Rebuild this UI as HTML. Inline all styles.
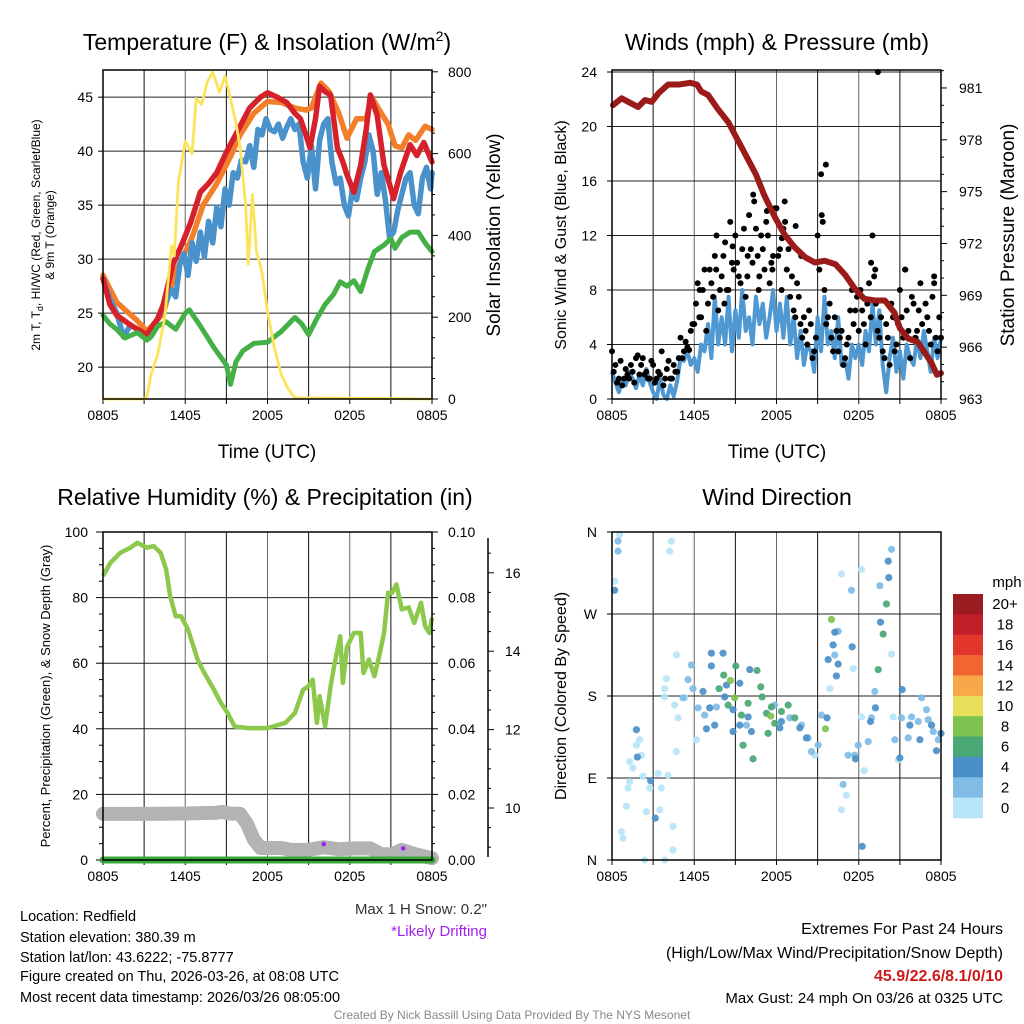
<!DOCTYPE html>
<html><head><meta charset="utf-8"><title>Redfield Mesonet</title>
<style>
html,body{margin:0;padding:0;background:#fff;}
svg{display:block;font-family:"Liberation Sans",Arial,sans-serif;}
</style></head>
<body>
<svg id="chart" width="1024" height="1024" viewBox="0 0 1024 1024" xmlns="http://www.w3.org/2000/svg">
<rect x="0" y="0" width="1024" height="1024" fill="#fff"/>
</svg>
<script>
// ---------- DATA ----------
const xTickLabels = ["0805","1405","2005","0205","0805"];
// Panel 1: temperature
const p1LeftTicks = [20,25,30,35,40,45];
const p1RightTicks = [0,200,400,600,800];
const orangeHours = [0,1,2.5,3.2,4.4,5.2,6.5,7.3,8.3,9.3,10,11,12,13,14,14.8,15.2,15.9,16.5,17.2,17.8,18.5,19.2,19.6,20.3,20.8,21.3,21.8,22.3,22.8,23.5,24];
const orangeTemp = [28.5,26,24.3,23.3,25,28.5,32,35,37,39.5,41.5,43.5,44.6,44.5,44,43.8,44,46.3,45.5,43.5,41.2,43,43,45,43.5,42.5,40.5,40.3,41.5,41,42.3,42];
const blueHours = [0,0.5,1,1.5,2,2.5,3,3.5,4,4.5,5,5.3,5.6,5.9,6.2,6.5,6.8,7.1,7.4,7.7,8,8.3,8.6,8.9,9.2,9.5,9.8,10.1,10.4,10.7,11,11.3,11.6,11.9,12.2,12.5,12.8,13.1,13.4,13.7,14,14.3,14.6,14.9,15.2,15.5,15.8,16.1,16.4,16.7,17,17.3,17.6,17.9,18.2,18.5,18.8,19.1,19.4,19.7,20,20.3,20.6,20.9,21.2,21.5,21.8,22.1,22.4,22.7,23,23.3,23.6,23.9,24];
const blueTemp = [28.2,26.3,25,22.8,23.9,23.5,23,23.2,24.5,25.8,27.2,26.5,29.5,30.5,28.5,31.5,29.8,32.5,30.2,33.5,31.5,34.8,33,36.5,35,38,37.5,39.2,39,40.5,38.5,42,41.5,43,42,41.8,42.5,41.2,42.2,43,42,42.5,39,37.5,40.5,36.5,41,42.5,43,39,37,37.5,35,34,36.5,35.5,37.5,39,41.5,40,36,38,35.5,32,32.5,34.5,36,37.5,38,35,34.2,37.5,38.5,36.5,38];
const redHours = [0,0.5,1,2,3.2,4,4.4,5.1,5.8,6.4,7.1,7.7,8.3,9,9.8,10.7,11.5,12,12.7,13.4,14,14.4,14.8,15.1,15.5,15.8,16.2,16.6,17.1,17.5,17.8,18.3,18.8,19.2,19.5,20,20.5,21,21.2,21.7,22.4,22.9,23.4,24];
const redTemp = [28.2,25.8,24.8,23.9,23,24.5,25.8,29.5,31.5,33.4,36.2,37,38,39.9,41.8,44,45,45.4,45,44.5,43.5,43,41.5,40.3,43,46,45.5,45.2,40.3,39,37.8,36.2,38.7,42,45.2,43.3,38.7,36.5,35.6,38,40.6,39.6,40.8,39];
const greenHours = [0,0.5,1,1.6,2.5,3.2,3.5,4,4.6,5.3,6,6.3,7,7.5,8.1,9,9.3,9.7,10.2,11,12,13,14,14.5,15,15.6,16.2,16.8,17.3,17.8,18.3,18.8,19.3,19.8,20.5,21,21.3,21.8,22.4,23,23.5,24];
const greenTemp = [24.8,24,23.5,22.7,23.2,22.5,22.8,23.8,24.2,23.5,25,25.3,24,23,21.8,20.2,18.4,20.5,21.5,22.2,22.3,23.3,24.6,24,23,24.5,25.8,26.7,27.9,27.5,28,27,29,30.7,31.3,31.9,31,32,32.5,32.5,31.5,30.7];
const solarHours = [0,3,3.2,3.5,4,4.5,5,5.2,5.5,6,6.5,6.8,7.2,7.6,8,8.5,8.9,9.3,9.7,10,10.4,10.6,10.9,11.2,11.6,12,12.5,13,13.5,14,24];
const solarWm2 = [0,0,5,60,110,200,375,350,530,630,600,735,720,775,800,750,790,735,675,615,475,330,500,360,310,213,125,60,25,3,0];
// Panel 2: winds & pressure
const p2LeftTicks = [0,4,8,12,16,20,24];
const p2RightTicks = [963,966,969,972,975,978,981];
const windSpeed = [2,1.2,0.5,1.5, 1,2,1.5,0.8, 1.8,1,2.2,1.2, 0.5,0,1.5,0.3, 0,1,0.2,1.3, 3,2.8,3.5,2.5, 3,2,4,3.5, 5.5,3,7.5,4, 6,4,7.5,3.5, 6.5,4.5,8,5, 6,4,7.5,5.5, 7,4.5,6,8, 5,7,4.5,7.5, 4,6,3,5, 2.5,4,3.5,2, 6,3.5,7.5,4, 5,3,6,2.5, 3,1.5,4,3, 4,2.5,5,3.5, 7,4,6.5,2.5, 0.5,3,4.5,2, 3.5,1.5,4,3, 2.5,4.5,3,5, 3.5,2,4.5,3, 4.5];
const gustSpeed = [3.5,2.5,1.5,1, 2.2,1.5,2,3, 1.8,3,2,1.5, 2.5,1.5,1.8,1, 2.2,1.5,2.5,2, 4.5,3.5,3.8,5, 5.5,8.5,6,9.5, 7,8.5,10.5,6.5, 9,11.5,8,10, 12,9,11,7.5, 13.5,10,12.5,9, 11,13,8.5,10.5, 14,11,12.5,9.5, 7.5,6.5,8.5,5.5, 6,4,5.5,3.5, 12,16.5,8,6, 4.5,6,3.5,5, 3,4.5,8,6.5, 5,6.5,4,8.5, 12,7,4.5,3.5, 5.5,2.5,6,4, 8,4.5,6.5,3, 7,5,8.5,3.5, 6,4,8.5,3.5, 4.5];
const gustSpeedOffset = [2,1.2,2.8,1.5, 1.8,2.5,1.2,3.2, 2.5,1.8,1.5,2.8, 1.2,2,3.5,1.5, 2.8,1.5,2,3, 3,4.2,3.6,5.5, 7,6,8,5, 9.5,7.5,12,8, 10.5,8,13,9.5, 10,8.5,12.5,9, 11,14.5,10.5,12, 9.5,12,10,14, 10.5,8,13,11, 9,6,7.5,4.5, 5,6.5,3,4.5, 9.5,13,5.5,7, 3.5,5,4.5,2.5, 4,6.5,5.5,7.5, 8,5.5,7,6, 9,5,6,3, 4.5,7,3.5,5.5, 6,9.5,5,7.5, 4.5,6.5,5.5,7, 5,7.5,4.5,6];
const extraGustHours = [7.6,8.8,10.3,11.3,12.6,13.4,15.6,15.3,19.4,18.9,19.2,21.4,23.5,6.4,9.9,11.7,12.4,8.2,10.7,13.8];
const extraGustSpeed = [9.5,11.2,15,13.8,14.5,12.7,17.2,13.5,24,10,9.5,9.5,9,8,10.5,9.5,11.8,7,8,10.5];
const pressHours = [0.07,0.7,1.9,2.4,2.9,3.4,4.1,4.9,5.7,6.2,6.5,7.0,7.7,8.5,9.1,9.9,10.5,11.1,11.9,12.6,13.3,14.1,14.8,15.5,16.3,17.0,17.7,18.4,19.2,19.9,20.6,21.0,21.6,22.3,22.8,23.3,23.7,24];
const pressMb = [980.0,980.4,979.9,980.3,980.2,980.7,981.2,981.2,981.3,981.2,980.8,980.6,979.8,979.0,978.1,976.9,976.0,974.8,973.5,972.5,971.8,971.2,970.9,971.0,970.8,970.2,969.4,968.8,968.7,968.7,968.0,967.1,966.5,966.3,965.7,965.1,964.4,964.5];
// Panel 3: RH, precip, snow
const p3LeftTicks = [0,20,40,60,80,100];
const p3PrecipTicks = ["0.00","0.02","0.04","0.06","0.08","0.10"];
const p3SnowTicks = [10,12,14,16];
const rhHours = [0,0.54,1.27,2.0,2.5,3.2,3.7,4.2,4.6,4.9,5.3,5.7,6.2,6.9,7.4,8.1,8.6,9.1,9.6,10.6,12.0,13.3,14.0,14.6,15.0,15.3,15.6,15.8,16.2,16.6,16.9,17.3,17.5,17.8,18.3,18.8,19.0,19.4,19.8,20.2,20.5,20.8,21.1,21.4,21.8,22.3,22.7,23.2,23.5,23.8,24];
const rhPct = [86.6,90.6,93.7,95.2,96.7,95.2,95.7,93.7,88.6,80.4,74.3,74.3,70.3,61.1,57.0,51.9,47.9,44.8,40.7,40.2,40.2,41.8,44.8,51.9,53,55,41.8,49.9,40.7,53,60,68.2,54,65,69.2,69.2,57,61.1,56,63.1,69.2,81.5,81.5,84,76.4,77,72.3,78.4,71.3,69.2,73.8];
const snowHours = [0,3.5,6,8.3,8.7,9.2,10.0,10.5,11.0,11.5,13.0,13.7,15.0,16.1,17.2,18.4,19.5,20.3,21.1,21.8,22.8,24];
const snowDepth = [9.85,9.85,9.86,9.88,9.9,9.86,9.85,9.6,9.2,8.98,8.98,8.93,8.93,9.0,8.95,8.97,8.97,8.82,8.82,8.93,8.82,8.72];
const precipHours = [0,24];
const precipIn = [0,0];
const driftHours = [16.1,21.9];
const driftDepth = [9.08,8.97];
// Panel 4: wind direction
const dirTickLabels = ["N","E","S","W","N"];
const wdHours = [0.56,4.33,4.21,4.70,3.97,3.84,3.84,4.57,4.82,6.16,4.70,1.78,2.02,2.14,1.29,1.53,1.29,1.17,2.26,2.75,3.36,4.09,3.60,1.05,2.51,3.48,4.45,0.68,0.80,4.45,2.38,3.84,0.19,16.74,18.20,17.59,20.39,15.89,18.20,20.51,16.74,17.10,18.39,14.79,20.88,5.30,
0.44,0.44,5.79,5.55,5.91,5.18,6.28,6.76,7.62,9.81,14.31,15.04,15.28,16.50,16.25,17.47,19.54,20.39,19.17,18.93,17.96,18.69,17.23,17.71,21.12,21.85,22.34,23.07,20.63,21.61,22.58,22.94,23.80,23.43,16.86,13.82,12.97,11.87,14.55,
0.19,7.25,8.10,7.25,10.05,6.64,7.13,8.22,8.35,9.32,8.83,9.32,10.17,9.93,6.89,7.49,8.83,2.82,3.16,1.78,1.85,16.25,16.13,15.77,16.50,16.37,17.52,20.15,20.19,19.59,19.22,18.86,15.69,17.76,18.25,21.73,22.46,23.31,23.67,24.0,21.0,21.17,12.24,12.36,13.70,14.18,
9.03,10.58,8.15,7.81,10.85,10.95,9.93,8.47,9.44,9.56,10.29,11.39,11.63,11.27,11.87,12.36,12.85,13.33,20.02,19.78,19.42,
8.64,8.95,16.01,15.57,11.58];
const wdDir = [357,350,339,225,199,188,179,170,156,132,119,126,132,115,108,101,86,79,92,79,95,93,79,59,53,55,37,31,24,11,0,0,306,314,319,210,226,188,157,157,55,71,98,115,110,178,
350,339,214,198,188,178,167,159,168,148,134,126,159,251,225,296,301,341,185,156,126,130,115,115,156,157,152,154,132,134,178,165,132,141,83,148,156,170,119,
296,227,227,213,209,185,167,179,192,194,165,148,141,157,144,148,141,87,46,143,113,250,236,220,215,202,234,328,310,261,167,152,156,111,15,148,132,148,120,139,112,187,145,152,145,134,
213,208,203,188,190,179,172,170,159,126,111,139,168,161,150,163,170,156,281,248,209,
197,178,264,144,158];
const wdSpeed = [1,1,1,1,1,1,1,1,1,1,1,1,1,1,1,1,1,1,1,1,1,1,1,1,1,1,1,1,1,1,1,1,1,1,1,1,1,1,1,1,1,1,1,1,1,1,
3,3,3,3,3,3,3,3,3,3,3,3,3,3,3,3,3,3,3,3,3,3,3,3,3,3,3,3,3,3,3,3,3,3,3,3,3,3,3,
5,5,5,5,5,5,5,5,5,5,5,5,5,5,5,5,5,5,5,5,5,5,5,5,5,5,5,5,5,5,5,5,5,5,5,5,5,5,5,5,5,5,5,5,5,5,
7,7,7,7,7,7,7,7,7,7,7,7,7,7,7,7,7,7,7,7,7,
9,9,9,9,9];
const speedBinLabels = ["20+","18","16","14","12","10","8","6","4","2","0"];
const speedBinColors = ["#9b1c20","#c1202a","#e2352b","#f26530","#f8a848","#e8e05a","#7dc24f","#49a876","#4a8fc8","#80bce6","#b8e4f8"];

// ---------- HELPERS ----------
const svg = document.getElementById('chart');
const NS = "http://www.w3.org/2000/svg";
function mk(tag, attrs, parent){
  const e = document.createElementNS(NS, tag);
  for (const k in attrs) e.setAttribute(k, attrs[k]);
  (parent||svg).appendChild(e);
  return e;
}
function txt(s, x, y, size, anchor, parent, extra){
  const a = {x:x, y:y, 'font-size':size, 'text-anchor':anchor||'middle', fill:'#000'};
  if (extra) for (const k in extra) a[k]=extra[k];
  const t = mk('text', a, parent);
  t.textContent = s;
  return t;
}
function linePath(xs, ys, fx, fy){
  let d='';
  for (let i=0;i<xs.length;i++){ d += (i?'L':'M') + fx(xs[i]).toFixed(1) + ' ' + fy(ys[i]).toFixed(1); }
  return d;
}
function panelFrame(g, x0, y0, x1, y1, name){
  const r = mk('rect',{x:x0,y:y0,width:x1-x0,height:y1-y0,fill:'none',stroke:'#000','stroke-width':1.5}, g);
  
  
}
function xAxis(g, x0, x1, y0, y1){
  const fx = h => x0 + h*(x1-x0)/24;
  for (let i=1;i<8;i++){
    const x = fx(i*3);
    const l = mk('line',{x1:x,y1:y0,x2:x,y2:y1,stroke:(i%2?'#111':'#666'),'stroke-width':1}, g);
    
    
  }
  for (let i=0;i<=8;i++){
    const x = fx(i*3);
    mk('line',{x1:x,y1:y1,x2:x,y2:y1+5,stroke:'#000','stroke-width':1}, g);
  }
  xTickLabels.forEach((s,i)=>{
    const t = txt(s, fx(i*6), y1+21, 14, 'middle', g);
    
    
  });
  return fx;
}

// ---------- PANEL 1 ----------
(function(){
  const g = mk('g',{});  
  const X0=103,X1=432,Y0=70,Y1=399;
  const fx = xAxis(g,X0,X1,Y0,Y1);
  const fy = t => Y1 - (t-17.05)*10.8;
  const fs = w => Y1 - w*0.409;
  p1LeftTicks.forEach(v=>{
    const y=fy(v);
    const l = mk('line',{x1:X0,y1:y,x2:X1,y2:y,stroke:'#222','stroke-width':1},g);
     
    mk('line',{x1:X0-5,y1:y,x2:X0,y2:y,stroke:'#000'},g);
    const t = txt(String(v), X0-10, y+5, 14, 'end', g);
     
  });
  for (let w=0; w<=800; w+=50){
    const y=fs(w);
    mk('line',{x1:X1,y1:y,x2:X1+(w%200===0?6:3),y2:y,stroke:'#000'},g);
  }
  p1RightTicks.forEach(w=>{
    const t = txt(String(w), X1+16, fs(w)+5, 14, 'start', g);
     
  });
  const series = [
    [orangeHours, orangeTemp, '#f47f2a', 5.5, 'nine-meter-temp-line'],
    [blueHours, blueTemp, '#4a92cc', 5.5, 'heat-index-wind-chill-line'],
    [redHours, redTemp, '#d7212a', 5.5, 'two-meter-temp-line'],
    [greenHours, greenTemp, '#45b045', 5, 'dewpoint-line']
  ];
  series.forEach(s=>{
    const p = mk('path',{d:linePath(s[0],s[1],fx,fy),fill:'none',stroke:s[2],'stroke-width':s[3],'stroke-linejoin':'round','stroke-linecap':'round'},g);
     
  });
  const sp = mk('path',{d:linePath(solarHours,solarWm2,fx,fs),fill:'none',stroke:'#fce45a','stroke-width':2.8,'stroke-linejoin':'round'},g);
   
  panelFrame(g,X0,Y0,X1,Y1,'temperature-plot-frame');
  const title = txt('', 267, 50, 23, 'middle', g);
  title.innerHTML = 'Temperature (F) &amp; Insolation (W/m<tspan dy="-9" font-size="14">2</tspan><tspan dy="9">)</tspan>';
   
  const xt = txt('Time (UTC)', 267, 458, 19, 'middle', g);
   
  const yl = mk('text',{transform:'translate(40,235) rotate(-90)','font-size':12,'text-anchor':'middle'},g);
  yl.innerHTML = '<tspan x="0" dy="0">2m T, T<tspan font-size="9" dy="3">d</tspan><tspan dy="-3">, HI/WC (Red, Green, Scarlet/Blue)</tspan></tspan><tspan x="0" dy="14">&amp; 9m T (Orange)</tspan>';
   
  const yr = txt('Solar Insolation (Yellow)', 0, 0, 19, 'middle', g, {transform:'translate(500,235) rotate(-90)'});
   
})();

// ---------- PANEL 2 ----------
(function(){
  const g = mk('g',{});  
  const X0=612,X1=941,Y0=70,Y1=399;
  const fx = xAxis(g,X0,X1,Y0,Y1);
  const fy = v => Y1 - v*13.625;
  const fp = p => Y1 - (p-963)*17.28;
  p2LeftTicks.forEach(v=>{
    const y=fy(v);
    const l = mk('line',{x1:X0,y1:y,x2:X1,y2:y,stroke:'#222','stroke-width':1},g);
     
    mk('line',{x1:X0-5,y1:y,x2:X0,y2:y,stroke:'#000'},g);
    const t = txt(String(v), X0-15, y+5, 14, 'end', g);
     
  });
  for (let p=963;p<=982;p++){
    mk('line',{x1:X1,y1:fp(p),x2:X1+((p-963)%3===0?6:3),y2:fp(p),stroke:'#000'},g);
  }
  p2RightTicks.forEach(p=>{
    const t = txt(String(p), X1+18, fp(p)+5, 14, 'start', g);
     
  });
  const wh = windSpeed.map((v,i)=>i*0.25);
  const wp = mk('path',{d:linePath(wh,windSpeed,fx,fy),fill:'none',stroke:'#4f98d2','stroke-width':4,'stroke-linejoin':'round'},g);
   
  gustSpeed.forEach((v,i)=>{
    const c = mk('circle',{cx:fx(i*0.25),cy:fy(v),r:3,fill:'#000'},g);
     
  });
  gustSpeedOffset.forEach((v,i)=>{
    const c = mk('circle',{cx:fx(i*0.25+0.125),cy:fy(v),r:3,fill:'#000'},g);
     
  });
  extraGustSpeed.forEach((v,i)=>{
    const c = mk('circle',{cx:fx(extraGustHours[i]),cy:fy(v),r:3,fill:'#000'},g);
     
  });
  const pp = mk('path',{d:linePath(pressHours,pressMb,fx,fp),fill:'none',stroke:'#9b1a1a','stroke-width':6,'stroke-linejoin':'round','stroke-linecap':'round'},g);
   
  panelFrame(g,X0,Y0,X1,Y1,'winds-plot-frame');
  const title = txt('Winds (mph) & Pressure (mb)', 777, 50, 23, 'middle', g);
   
  const xt = txt('Time (UTC)', 777, 458, 19, 'middle', g);
   
  const yl = txt('Sonic Wind & Gust (Blue, Black)', 0, 0, 16, 'middle', g, {transform:'translate(566,235) rotate(-90)'});
   
  const yr = txt('Station Pressure (Maroon)', 0, 0, 19, 'middle', g, {transform:'translate(1014,235) rotate(-90)'});
   
})();

// ---------- PANEL 3 ----------
(function(){
  const g = mk('g',{});  
  const X0=103,X1=432,Y0=532,Y1=860;
  const fx = xAxis(g,X0,X1,Y0,Y1);
  const fy = v => Y1 - v*3.28;
  const fsn = s => 808 - (s-10)*39.2;
  p3LeftTicks.forEach(v=>{
    const y=fy(v);
    const l = mk('line',{x1:X0,y1:y,x2:X1,y2:y,stroke:'#222','stroke-width':1},g);
     
    const t = txt(String(v), X0-15, y+5, 14, 'end', g);
     
  });
  for (let v=0; v<=100; v+=5){
    mk('line',{x1:X0-(v%20===0?7:4),y1:fy(v),x2:X0,y2:fy(v),stroke:'#000'},g);
    mk('line',{x1:X1,y1:fy(v),x2:X1+(v%20===0?6:3),y2:fy(v),stroke:'#000'},g);
  }
  p3PrecipTicks.forEach((s,i)=>{
    const t = txt(s, X1+16, fy(i*20)+5, 14, 'start', g);
     
  });
  const ax = mk('line',{x1:488,y1:538,x2:488,y2:857,stroke:'#000','stroke-width':1.5},g);
   
  for (let s=9; s<=17; s+=0.5){
    const y=fsn(s); if (y<538||y>857) continue;
    mk('line',{x1:488,y1:y,x2:488+(Number.isInteger(s)&&s%2===0?6:3),y2:y,stroke:'#000'},g);
  }
  p3SnowTicks.forEach(s=>{
    const t = txt(String(s), 505, fsn(s)+5, 14, 'start', g);
     
  });
  const rp = mk('path',{d:linePath(rhHours,rhPct,fx,fy),fill:'none',stroke:'#8cc84b','stroke-width':4.5,'stroke-linejoin':'round'},g);
   
  const sp = mk('path',{d:linePath(snowHours,snowDepth,fx,fsn),fill:'none',stroke:'#b3b3b3','stroke-width':14,'stroke-linejoin':'round','stroke-linecap':'round'},g);
   
  const fpr = v => Y1 - v*3280;
  const pr = mk('path',{d:linePath(precipHours,precipIn,fx,fpr),fill:'none',stroke:'#3aa63a','stroke-width':7,'stroke-linecap':'round'},g);
   
  driftHours.forEach((h,i)=>{
    const c = mk('circle',{cx:fx(h),cy:fsn(driftDepth[i]),r:2.3,fill:'#a020f0'},g);
     
  });
  panelFrame(g,X0,Y0,X1,Y1,'humidity-plot-frame');
  const title = txt('Relative Humidity (%) & Precipitation (in)', 265, 505, 23, 'middle', g);
   
  const yl = txt('Percent, Precipitation (Green), & Snow Depth (Gray)', 0, 0, 13, 'middle', g, {transform:'translate(50,696) rotate(-90)'});
   
  const ms = txt('Max 1 H Snow: 0.2"', 487, 914, 15, 'end', g, {fill:'#333'});
   
  const ld = txt('*Likely Drifting', 487, 936, 15, 'end', g, {fill:'#a020f0'});
   
})();

// ---------- PANEL 4 ----------
(function(){
  const g = mk('g',{});  
  const X0=612,X1=941,Y0=532,Y1=860;
  const fx = xAxis(g,X0,X1,Y0,Y1);
  const fy = d => Y1 - d*(Y1-Y0)/360;
  dirTickLabels.forEach((s,i)=>{
    const y = fy(i*90);
    const l = mk('line',{x1:X0,y1:y,x2:X1,y2:y,stroke:'#222','stroke-width':1},g);
     
    mk('line',{x1:X0-5,y1:y,x2:X0,y2:y,stroke:'#000'},g);
    const t = txt(s, X0-15, y+5, 14, 'end', g);
     
  });
  function colorFor(s){
    const bin = Math.min(10, Math.floor(s/2));
    return speedBinColors[10-bin];
  }
  wdHours.forEach((h,i)=>{
    const c = mk('circle',{cx:fx(h),cy:fy(wdDir[i]),r:3.6,fill:colorFor(wdSpeed[i]),'fill-opacity':0.92},g);
     
  });
  panelFrame(g,X0,Y0,X1,Y1,'wind-direction-plot-frame');
  const title = txt('Wind Direction', 777, 505, 23, 'middle', g);
   
  const yl = txt('Direction (Colored By Speed)', 0, 0, 16, 'middle', g, {transform:'translate(566,696) rotate(-90)'});
   
  const cb = mk('g',{},g);  
  const bh = (818-594)/11;
  speedBinColors.forEach((c,i)=>{
    const r = mk('rect',{x:953,y:594+i*bh,width:30,height:bh+0.3,fill:c},cb);
     
  });
  speedBinLabels.forEach((s,i)=>{
    const t = txt(s, 1005, 594+i*bh+bh/2+5, 15, 'middle', cb);
     
  });
  const mph = txt('mph', 1007, 587, 15, 'middle', cb);
   
})();

// ---------- FOOTER TEXT ----------
(function(){
  const g = mk('g',{});  
  const lines = ['Location: Redfield','Station elevation: 380.39 m','Station lat/lon: 43.6222; -75.8777','Figure created on Thu, 2026-03-26, at 08:08 UTC','Most recent data timestamp: 2026/03/26 08:05:00'];
  const ys = [921,942,962,981,1002];
  lines.forEach((s,i)=>{
    const t = txt(s, 20, ys[i], 14.5, 'start', g);
     
  });
  const g2 = mk('g',{});  
  const e1 = txt('Extremes For Past 24 Hours', 1003, 934, 16, 'end', g2);
   
  const e2 = txt('(High/Low/Max Wind/Precipitation/Snow Depth)', 1003, 958, 16, 'end', g2);
   
  const e3 = txt('45.9/22.6/8.1/0/10', 1003, 981, 16, 'end', g2, {fill:'#cc1a1a','font-weight':'bold'});
   
  const e4 = txt('Max Gust: 24 mph On 03/26 at 0325 UTC', 1003, 1003, 15, 'end', g2);
   
  const cr = txt('Created By Nick Bassill Using Data Provided By The NYS Mesonet', 512, 1019, 12, 'middle', null, {fill:'#888'});
   
})();
</script>
</body></html>
